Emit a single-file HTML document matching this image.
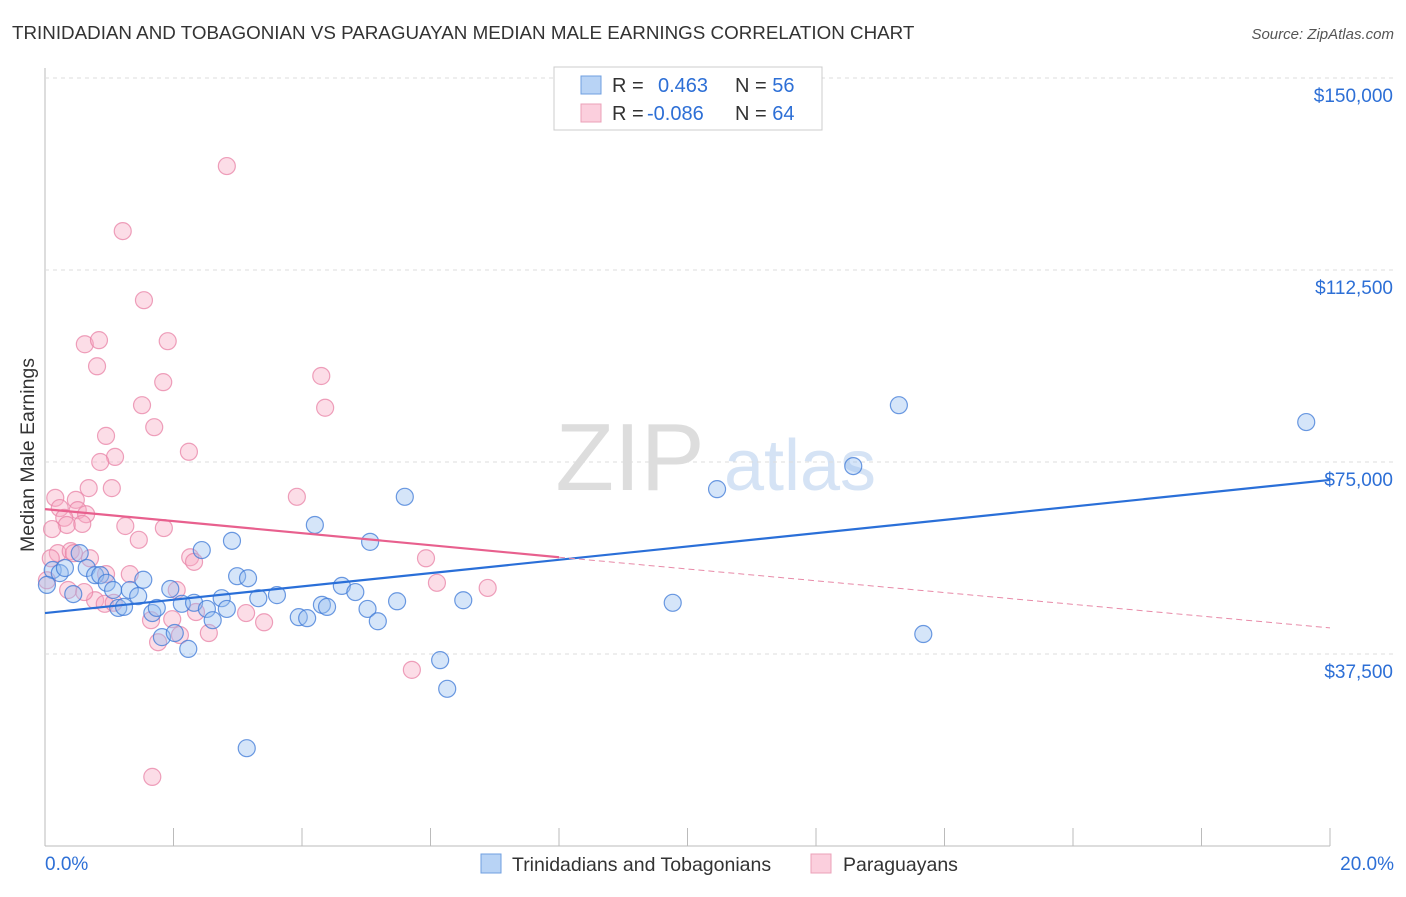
<!DOCTYPE html>
<html><head><meta charset="utf-8"><style>
body{margin:0;background:#fff;font-family:"Liberation Sans",sans-serif;}
svg text{font-family:"Liberation Sans",sans-serif;}
</style></head><body>
<svg id="c" width="1406" height="892" xmlns="http://www.w3.org/2000/svg">
<text x="12" y="39" font-size="18.8" fill="#333">TRINIDADIAN AND TOBAGONIAN VS PARAGUAYAN MEDIAN MALE EARNINGS CORRELATION CHART</text>
<text x="1394" y="39" font-size="15" fill="#555" font-style="italic" text-anchor="end">Source: ZipAtlas.com</text>
<text x="630" y="490" font-size="96" fill="#ddd" font-family="Liberation Serif" text-anchor="middle">ZIP</text>
<text x="800" y="490" font-size="72" fill="#d5e3f5" text-anchor="middle">atlas</text>
<text transform="translate(34,455) rotate(-90)" font-size="19.5" fill="#333" text-anchor="middle">Median Male Earnings</text>
<g id="axes"></g>
<g id="marks"></g>
<g>
<rect x="554" y="67" width="268" height="63" fill="#fff" stroke="#ccc"/>
<rect x="581" y="76" width="20" height="18" fill="#b8d3f5" stroke="#6f9fe0"/>
<rect x="581" y="104" width="20" height="18" fill="#fbcfdd" stroke="#eba0b8"/>
<text x="612" y="92" font-size="20" fill="#333">R = <tspan fill="#2d6fd6" x="658">0.463</tspan><tspan fill="#333" x="735">N = </tspan><tspan fill="#2d6fd6">56</tspan></text>
<text x="612" y="120" font-size="20" fill="#333">R = <tspan fill="#2d6fd6" x="647">-0.086</tspan><tspan fill="#333" x="735">N = </tspan><tspan fill="#2d6fd6">64</tspan></text>
</g>
<g>
<rect x="481" y="854" width="20" height="19" fill="#b8d3f5" stroke="#6f9fe0"/>
<text x="512" y="871" font-size="19.5" fill="#333">Trinidadians and Tobagonians</text>
<rect x="811" y="854" width="20" height="19" fill="#fbcfdd" stroke="#eba0b8"/>
<text x="843" y="871" font-size="19.5" fill="#333">Paraguayans</text>
</g>
<text x="45" y="870" font-size="19" fill="#2d6fd6">0.0%</text>
<text x="1394" y="870" font-size="19" fill="#2d6fd6" text-anchor="end">20.0%</text>
</svg>
<script>
const yTicks=[37500,75000,112500,150000];
const yTickLabels=["$37,500","$75,000","$112,500","$150,000"];
const blueX=[0.12,0.23,0.31,0.44,0.54,0.65,0.78,0.86,0.96,1.06,1.14,1.23,1.32,1.45,1.53,1.67,1.74,1.82,1.95,2.02,2.13,2.23,2.32,2.44,2.52,2.61,2.75,2.83,2.91,2.99,3.16,3.14,3.32,3.61,3.95,4.08,4.20,4.31,4.39,4.62,4.83,5.02,5.06,5.18,5.48,5.60,6.15,6.26,6.51,9.77,10.46,12.58,13.29,13.67,19.63,0.03];
const blueY=[53900,53300,54300,49200,57200,54300,52900,52900,51400,50000,46500,46700,50000,48800,52000,45500,46500,40800,50200,41600,47300,38500,47500,57800,46300,44100,48400,46300,59600,52700,52300,19100,48400,49000,44700,44500,62700,47100,46700,50800,49600,46300,59400,43900,47800,68200,36300,30700,48000,47500,69700,74200,86100,41400,82800,51000];
const pinkX=[2.83,1.21,1.54,0.62,0.84,1.91,0.81,4.30,1.84,1.51,4.36,1.70,0.95,2.24,1.09,0.86,0.68,1.04,0.16,3.92,0.48,0.23,0.51,0.64,0.30,0.34,0.58,1.25,1.85,0.11,1.46,0.20,0.40,0.45,0.09,0.70,2.26,5.93,2.32,0.03,1.32,0.95,6.10,6.89,2.05,0.36,0.78,0.93,1.07,3.13,2.35,1.65,1.98,3.41,2.55,2.10,1.76,5.71,1.67,0.61];
const pinkY=[132800,120100,106600,98000,98800,98600,93700,91800,90600,86100,85600,81800,80100,77000,76000,75000,69900,69900,68000,68200,67600,66000,65600,64800,64100,62700,62900,62500,62100,61900,59800,57200,57600,57200,56200,56200,56400,56200,55500,51900,53100,53100,51400,50400,50000,50000,48000,47300,47500,45500,45700,44100,44300,43700,41600,41200,39800,34400,13500,49600];
const blueTrendX=[0,20], blueTrendY=[45500,71500];
const pinkTrendX=[0,8,20], pinkTrendY=[65800,56400,42600];
const X=p=>45+p/20*1285;
const Y=v=>654-(v-37500)*192/37500;
const NS="http://www.w3.org/2000/svg";
function mk(tag,at,parent){const e=document.createElementNS(NS,tag);for(const k in at)e.setAttribute(k,at[k]);parent.appendChild(e);return e;}
const ax=document.getElementById('axes'), mg=document.getElementById('marks');
let l=mk('line',{x1:45,y1:68,x2:45,y2:846,stroke:'#bbb'},ax);


l=mk('line',{x1:45,y1:846,x2:1330,y2:846,stroke:'#bbb'},ax);


for(let i=0;i<=10;i++){const t=mk('line',{x1:X(i*2),y1:846,x2:X(i*2),y2:i==0?846:828,stroke:'#bbb'},ax);

}
yTicks.forEach((v,i)=>{const g=mk('line',{x1:45,y1:Y(v),x2:1394,y2:Y(v),stroke:'#ddd','stroke-dasharray':'4,4'},ax);


const t=mk('text',{x:1393,y:Y(v)+24,'font-size':19,fill:'#2d6fd6','text-anchor':'end'},ax);t.textContent=yTickLabels[i];

});
pinkX.forEach((x,i)=>{const c=mk('circle',{cx:X(x),cy:Y(pinkY[i]),r:8.5,fill:'rgba(248,170,195,0.4)',stroke:'rgba(232,130,165,0.75)','stroke-width':1.2},mg);

});
blueX.forEach((x,i)=>{const c=mk('circle',{cx:X(x),cy:Y(blueY[i]),r:8.5,fill:'rgba(150,190,240,0.4)',stroke:'rgba(60,120,215,0.75)','stroke-width':1.2},mg);

});
l=mk('line',{x1:X(blueTrendX[0]),y1:Y(blueTrendY[0]),x2:X(blueTrendX[1]),y2:Y(blueTrendY[1]),stroke:'#2a6fd8','stroke-width':2.2},mg);


l=mk('line',{x1:X(pinkTrendX[0]),y1:Y(pinkTrendY[0]),x2:X(pinkTrendX[1]),y2:Y(pinkTrendY[1]),stroke:'#e8608e','stroke-width':2.2},mg);


l=mk('line',{x1:X(pinkTrendX[1]),y1:Y(pinkTrendY[1]),x2:X(pinkTrendX[2]),y2:Y(pinkTrendY[2]),stroke:'#e88aa8','stroke-width':1,'stroke-dasharray':'6,4'},mg);


</script>
</body></html>
